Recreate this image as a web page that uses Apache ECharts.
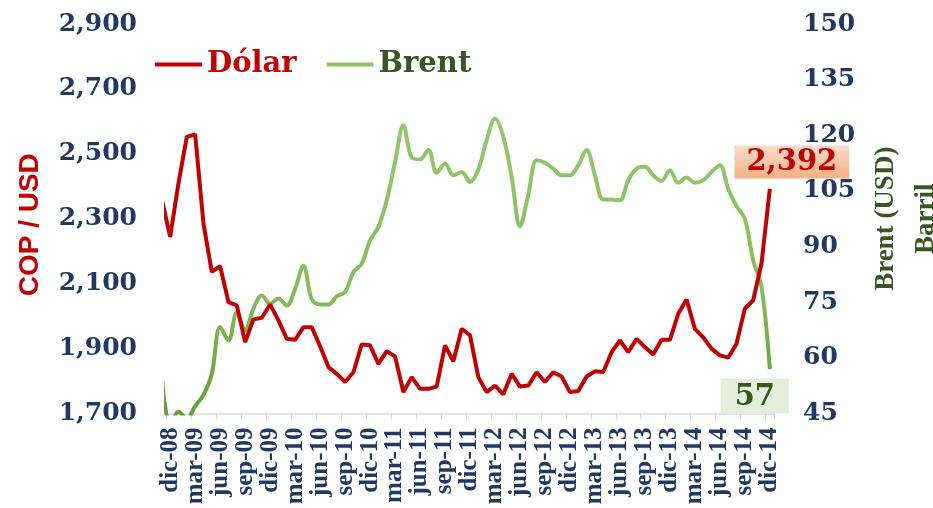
<!DOCTYPE html>
<html><head><meta charset="utf-8">
<script src="https://cdn.jsdelivr.net/npm/echarts@6/dist/echarts.min.js"></script>
<style>html,body{margin:0;padding:0;background:#fff}#c{width:933px;height:508px}</style>
</head><body><div id="c"></div>
<script>
// Months: first entry (nov-08) lies just left of the plotted window and is clipped
const months = ['nov-08','dic-08',
 'ene-09','feb-09','mar-09','abr-09','may-09','jun-09','jul-09','ago-09','sep-09','oct-09','nov-09','dic-09',
 'ene-10','feb-10','mar-10','abr-10','may-10','jun-10','jul-10','ago-10','sep-10','oct-10','nov-10','dic-10',
 'ene-11','feb-11','mar-11','abr-11','may-11','jun-11','jul-11','ago-11','sep-11','oct-11','nov-11','dic-11',
 'ene-12','feb-12','mar-12','abr-12','may-12','jun-12','jul-12','ago-12','sep-12','oct-12','nov-12','dic-12',
 'ene-13','feb-13','mar-13','abr-13','may-13','jun-13','jul-13','ago-13','sep-13','oct-13','nov-13','dic-13',
 'ene-14','feb-14','mar-14','abr-14','may-14','jun-14','jul-14','ago-14','sep-14','oct-14','nov-14','dic-14'];

const dolar = [2360, 2244,
 2410, 2552, 2560, 2285, 2136, 2154, 2043, 2033, 1920, 1990, 1995, 2036,
 1987, 1930, 1927, 1966, 1966, 1907, 1843, 1822, 1797, 1827, 1913, 1910,
 1853, 1892, 1876, 1766, 1812, 1776, 1776, 1783, 1910, 1861, 1961, 1941,
 1812, 1766, 1786, 1759, 1822, 1783, 1786, 1827, 1797, 1827, 1814, 1766,
 1769, 1814, 1830, 1828, 1889, 1925, 1889, 1930, 1905, 1882, 1927, 1927,
 2007, 2051, 1961, 1935, 1900, 1879, 1872, 1915, 2023, 2049, 2162, 2392];

const brent = [55, 42,
 45.5, 43.5, 47, 50, 55.7, 68.3, 64.7, 72.3, 67.4, 73.3, 76.8, 74.6,
 76, 74.1, 78.6, 84.8, 75.8, 74.4, 74.4, 76.6, 77.7, 83.1, 85.4, 91.7,
 95.3, 102.5, 112.8, 122.7, 114, 113.5, 116, 109.9, 112.4, 109.2, 110.1, 107.4,
 110.8, 118.7, 124.5, 119.6, 108.8, 95.5, 104, 113.3, 112.6, 111, 109.2, 109.2,
 111.9, 116, 109.2, 102.7, 102.7, 102.5, 107.9, 111, 111.5, 109.2, 107.7, 110.6,
 107.2, 108.6, 107.2, 107.9, 110.1, 111.9, 105.6, 100.9, 97.5, 86.3, 79.1, 57];

const seriesNames = ['Dólar', 'Brent'];
const leftAxis = {min: 1700, max: 2900, interval: 200, name: 'COP / USD'};
const rightAxis = {min: 45, max: 150, interval: 15, name: 'Brent (USD)\nBarril'};

const navy = '#1f3864';
const red = '#c00000';
const darkGreen = '#375623';
const tickFont = "'DejaVu Serif', serif";

const axisMonths = months.slice(1);
const lastIdx = months.length - 1;

function toPoints(arr, labelCfg) {
  return arr.map((v, i) => {
    const pt = [i - 1, v];
    if (i === lastIdx) return {value: pt, label: labelCfg};
    return pt;
  });
}

const chart = echarts.init(document.getElementById('c'), null, {renderer: 'canvas'});
chart.setOption({
  backgroundColor: '#ffffff',
  animation: false,
  grid: {left: 166, right: 159, top: 24, bottom: 94.5, containLabel: false, outerBoundsMode: 'none'},
  legend: {
    left: 150, top: 45,
    icon: 'rect', itemWidth: 47, itemHeight: 4, itemGap: 30,
    textStyle: {fontFamily: tickFont, fontWeight: 'bold', fontSize: 29},
    data: [
      {name: seriesNames[0], textStyle: {color: red}},
      {name: seriesNames[1], textStyle: {color: darkGreen}}
    ]
  },
  xAxis: [
    {
      type: 'category', data: axisMonths, boundaryGap: true,
      axisLine: {show: true, lineStyle: {color: '#d9d9d9', width: 1.5}},
      axisTick: {show: true, interval: 2, length: 6, lineStyle: {color: '#d9d9d9'}},
      axisLabel: {interval: 2, rotate: 90, margin: 14, color: navy, showMinLabel: true, showMaxLabel: true,
        hideOverlap: false,
        fontFamily: "'Liberation Serif', serif", fontWeight: 'bold', fontSize: 25},
      splitLine: {show: false}
    },
    {type: 'value', min: -0.5, max: axisMonths.length - 0.5, show: false}
  ],
  yAxis: [
    {
      type: 'value', min: leftAxis.min, max: leftAxis.max, interval: leftAxis.interval,
      name: leftAxis.name, nameLocation: 'middle', nameRotate: 90, nameGap: 122,
      nameTextStyle: {color: red, fontFamily: "'Liberation Sans', sans-serif", fontWeight: 'bold', fontSize: 28, padding: [0, 12, 0, 0]},
      axisLine: {show: false}, axisTick: {show: false}, splitLine: {show: false},
      axisLabel: {margin: 29, color: navy, fontFamily: tickFont, fontWeight: 'bold', fontSize: 25,
        formatter: v => v.toLocaleString('en-US')}
    },
    {
      type: 'value', min: rightAxis.min, max: rightAxis.max, interval: rightAxis.interval, position: 'right',
      name: rightAxis.name, nameLocation: 'middle', nameRotate: 90, nameGap: 84,
      nameTextStyle: {color: darkGreen, fontFamily: "'Liberation Serif', serif", fontWeight: 'bold', fontSize: 27, lineHeight: 40, align: 'center'},
      axisLine: {show: false}, axisTick: {show: false}, splitLine: {show: false},
      axisLabel: {margin: 29, color: navy, fontFamily: tickFont, fontWeight: 'bold', fontSize: 25}
    }
  ],
  series: [
    {
      name: seriesNames[0], type: 'line', xAxisIndex: 1, yAxisIndex: 0,
      data: toPoints(dolar, {
        show: true, position: 'top', distance: 10, offset: [22, 0],
        formatter: p => Math.round(p.value[1]).toLocaleString('en-US'),
        color: red, fontFamily: tickFont, fontWeight: 'bold', fontSize: 29,
        backgroundColor: new echarts.graphic.LinearGradient(0, 0, 0, 1, [
          {offset: 0, color: '#fbdccb'}, {offset: 1, color: '#f4b183'}]),
        padding: [3, 12, 1, 12]
      }),
      symbol: 'circle', symbolSize: 1, showSymbol: true, showAllSymbol: true, clip: true, z: 3,
      itemStyle: {color: red},
      lineStyle: {color: red, width: 4}
    },
    {
      name: seriesNames[1], type: 'line', xAxisIndex: 1, yAxisIndex: 1,
      data: toPoints(brent, {
        show: true, position: 'bottom', distance: 9, offset: [-15, 0],
        formatter: p => Math.round(p.value[1]).toString(),
        color: darkGreen, fontFamily: tickFont, fontWeight: 'bold', fontSize: 29,
        backgroundColor: '#e2efda', padding: [4, 14, 2, 14]
      }),
      symbol: 'circle', symbolSize: 1, showSymbol: true, showAllSymbol: true, smooth: 0.35, clip: true, z: 2,
      itemStyle: {color: '#8ec36b'},
      lineStyle: {width: 4, color: new echarts.graphic.LinearGradient(0, 0, 0, 1, [
        {offset: 0, color: '#93c872'}, {offset: 0.55, color: '#86bd5f'}, {offset: 1, color: '#5f9c36'}])}
    }
  ]
});
</script></body></html>
